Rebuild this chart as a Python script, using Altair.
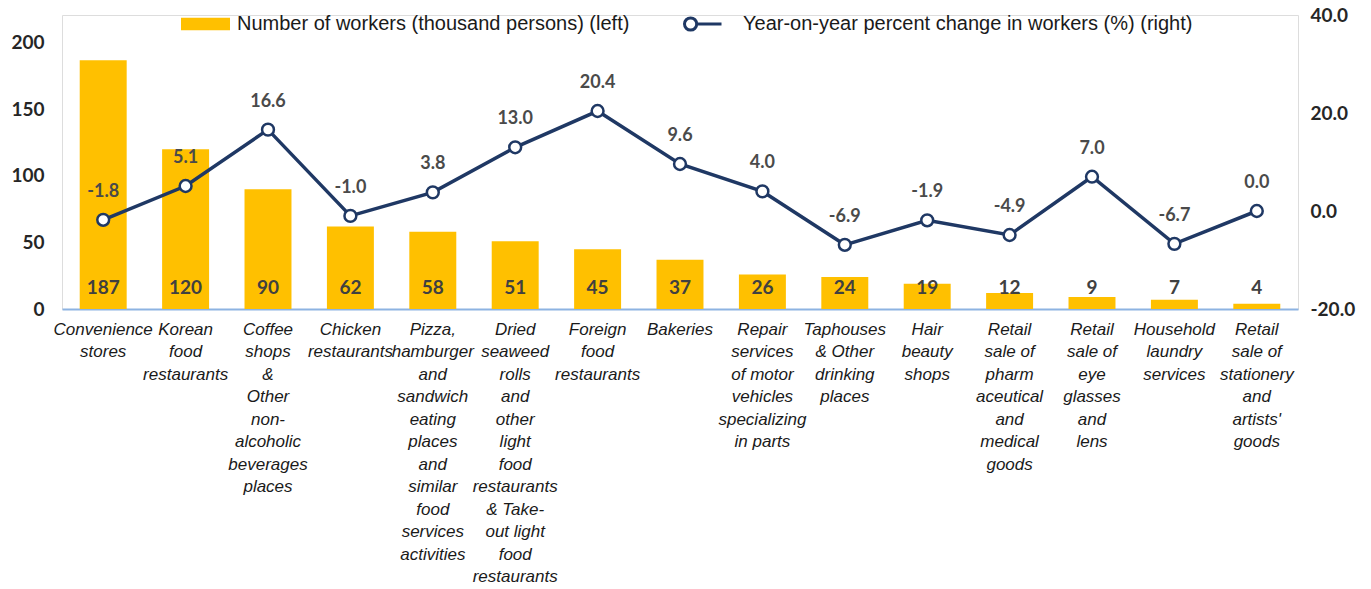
import altair as alt
import pandas as pd

categories = [
    "Convenience|stores",
    "Korean|food|restaurants",
    "Coffee|shops|&|Other|non-|alcoholic|beverages|places",
    "Chicken|restaurants",
    "Pizza,|hamburger|and|sandwich|eating|places|and|similar|food|services|activities",
    "Dried|seaweed|rolls|and|other|light|food|restaurants|& Take-|out light|food|restaurants",
    "Foreign|food|restaurants",
    "Bakeries",
    "Repair|services|of motor|vehicles|specializing|in parts",
    "Taphouses|& Other|drinking|places",
    "Hair|beauty|shops",
    "Retail|sale of|pharm|aceutical|and|medical|goods",
    "Retail|sale of|eye|glasses|and|lens",
    "Household|laundry|services",
    "Retail|sale of|stationery|and|artists'|goods",
]
workers = [187, 120, 90, 62, 58, 51, 45, 37, 26, 24, 19, 12, 9, 7, 4]
pct_change = [-1.8, 5.1, 16.6, -1.0, 3.8, 13.0, 20.4, 9.6, 4.0, -6.9, -1.9, -4.9, 7.0, -6.7, 0.0]

bar_name = "Number of workers (thousand persons) (left)"
line_name = "Year-on-year percent change in workers (%) (right)"

df = pd.DataFrame({
    "cat": categories,
    "workers": workers,
    "pct": pct_change,
})
df["bar_series"] = bar_name
df["line_series"] = line_name
df["zero"] = 0
df["pct_label"] = [f"{v:.1f}" for v in pct_change]
df["workers_label"] = [str(v) for v in workers]

GOLD = "#FFC000"
NAVY = "#1F3864"
NUMFONT = "Lato"

x_enc = alt.X(
    "cat:N", sort=None, title=None,
    scale=alt.Scale(paddingInner=0.43, paddingOuter=0.215),
    axis=alt.Axis(
        labelExpr="split(datum.label, '|')",
        labelAngle=0, labelFont="Liberation Sans", labelFontStyle="italic",
        labelFontSize=17, labelLineHeight=22.5, labelColor="#1a1a1a",
        labelPadding=12, labelOverlap=False, labelLimit=300,
        ticks=False, domainColor="#8DB3E2", domainWidth=2,
        labelBaseline="top",
    ),
)

bars = alt.Chart(df).mark_bar().encode(
    x=x_enc,
    y=alt.Y(
        "workers:Q", title=None,
        scale=alt.Scale(domain=[0, 221], nice=False, zero=True),
        axis=alt.Axis(
            values=[0, 50, 100, 150, 200], grid=False, domain=False, ticks=False,
            labelFont=NUMFONT, labelFontWeight="bold", labelFontSize=19,
            labelColor="#262626", labelPadding=18,
        ),
    ),
    fill=alt.Fill(
        "bar_series:N",
        scale=alt.Scale(domain=[bar_name], range=[GOLD]),
        legend=alt.Legend(
            title=None, orient="none", legendX=119, legendY=-15.5,
            symbolType="M-1,-0.26L1,-0.26L1,0.26L-1,0.26Z", symbolSize=2401,
            symbolStrokeWidth=0, labelFont="Liberation Sans", labelFontSize=20,
            labelColor="#1a1a1a", labelOffset=7, padding=0, labelLimit=700,
        ),
    ),
)

bar_text = alt.Chart(df).mark_text(
    font=NUMFONT, fontWeight="bold", fontSize=19, color="#404040", dy=-21,
).encode(
    x=alt.X("cat:N", sort=None),
    y=alt.Y("zero:Q"),
    text="workers_label:N",
)

left = alt.layer(bars, bar_text)

line = alt.Chart(df).mark_line(
    strokeWidth=3.5,
    point=alt.OverlayMarkDef(filled=True, fill="white", stroke=NAVY, strokeWidth=2.5, size=140),
).encode(
    x=alt.X("cat:N", sort=None),
    y=alt.Y(
        "pct:Q", title=None,
        scale=alt.Scale(domain=[-20, 40], nice=False, zero=False),
        axis=alt.Axis(
            orient="right", values=[-20, 0, 20, 40], grid=False, domain=False, ticks=False,
            labelExpr="datum.value < 0 ? '-' + format(abs(datum.value), '.1f') : format(datum.value, '.1f')",
            labelFont=NUMFONT, labelFontWeight="bold", labelFontSize=19,
            labelColor="#262626", labelPadding=12,
        ),
    ),
    stroke=alt.Stroke(
        "line_series:N",
        scale=alt.Scale(domain=[line_name], range=[NAVY]),
        legend=alt.Legend(
            title=None, orient="none", legendX=621, legendY=-11,
            symbolType="M-1,0A0.33,0.33 0 1,1 -0.34,0A0.33,0.33 0 1,1 -1,0M-0.34,0L1,0",
            symbolSize=1369, symbolStrokeWidth=3, symbolFillColor="white",
            symbolStrokeColor=NAVY,
            labelFont="Liberation Sans", labelFontSize=20, labelColor="#1a1a1a",
            labelOffset=20, padding=0, labelLimit=700,
        ),
    ),
)

line_text = alt.Chart(df).mark_text(
    font=NUMFONT, fontWeight="bold", fontSize=18, color="#4a4a4a", dy=-28,
).encode(
    x=alt.X("cat:N", sort=None),
    y=alt.Y("pct:Q"),
    text="pct_label:N",
)

right = alt.layer(line, line_text)

chart = alt.layer(left, right).resolve_scale(y="independent").properties(
    width=1236, height=294,
    autosize=alt.AutoSizeParams(type="none"),
    padding={"left": 62, "top": 15, "right": 73, "bottom": 280},
).configure_view(stroke=None).configure(background="white")

chart.save("out.html", embed_options={"renderer": "svg", "actions": False})
